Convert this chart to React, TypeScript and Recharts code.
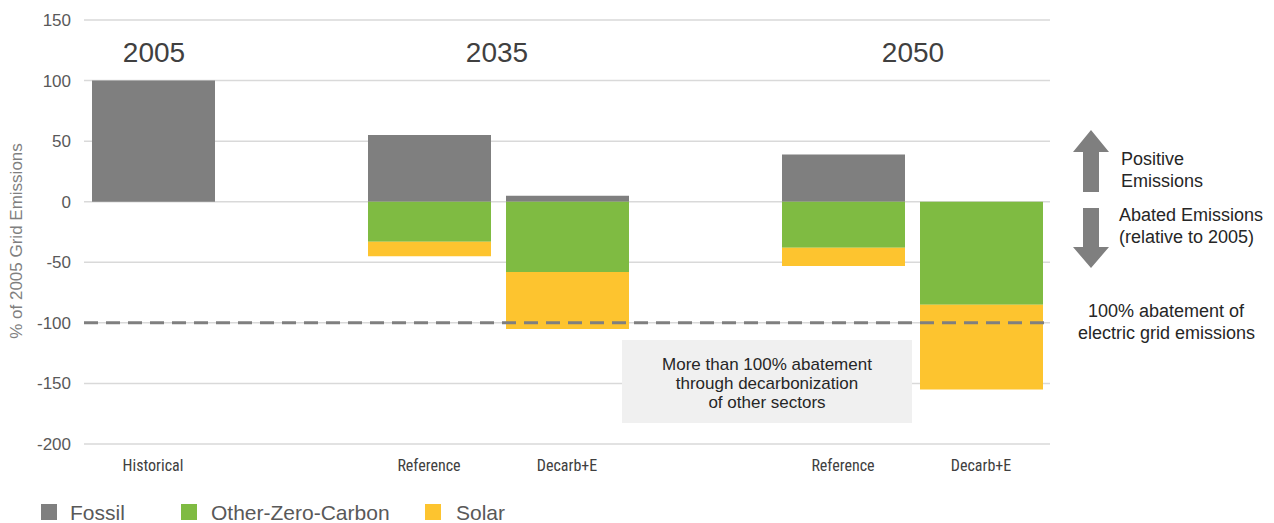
import React from "react";
import { BarChart, Bar, XAxis, YAxis, CartesianGrid, ReferenceLine } from "recharts";

const categories = ["Historical", "", "Reference", "Decarb+E", " ", "Reference", "Decarb+E"];
const fossil = [100, 0, 55, 5, 0, 39, 0];
const otherZeroCarbon = [0, 0, -33, -58, 0, -38, -85];
const solar = [0, 0, -12, -47, 0, -15, -70];
const yTicks = [-200, -150, -100, -50, 0, 50, 100, 150];
const seriesNames = ["Fossil", "Other-Zero-Carbon", "Solar"];
const seriesColors = ["#7f7f7f", "#7fbb42", "#fdc42f"];

const data = categories.map((c, i) => ({
  cat: c,
  fossil: fossil[i],
  other: otherZeroCarbon[i],
  solar: solar[i],
}));

const FONT = "'Liberation Sans', Arial, sans-serif";
const NARROW = "'Liberation Sans Narrow', 'Roboto Condensed', 'DejaVu Sans Condensed', sans-serif";

export default function App() {
  return (
    <div style={{ position: "relative", width: 1274, height: 523, fontFamily: FONT }}>
      <style>{"body{margin:0}"}</style>
      <BarChart
        width={1274}
        height={523}
        data={data}
        stackOffset="sign"
        margin={{ top: 20, right: 224, left: 0, bottom: 49 }}
      >
        <CartesianGrid vertical={false} stroke="#d9d9d9" strokeWidth={1.5} />
        <XAxis
          dataKey="cat"
          height={30}
          axisLine={false}
          tickLine={false}
          tickMargin={10}
          interval={0}
          tick={{ fill: "#404040", fontSize: 16, fontFamily: NARROW }}
        />
        <YAxis
          width={84}
          domain={[-200, 150]}
          ticks={yTicks}
          axisLine={false}
          tickLine={false}
          tickMargin={7}
          tick={{ fill: "#595959", fontSize: 17, fontFamily: FONT }}
        />
        <Bar dataKey="fossil" stackId="a" fill={seriesColors[0]} barSize={123} isAnimationActive={false} />
        <Bar dataKey="other" stackId="a" fill={seriesColors[1]} barSize={123} isAnimationActive={false} />
        <Bar dataKey="solar" stackId="a" fill={seriesColors[2]} barSize={123} isAnimationActive={false} />
        <ReferenceLine y={-100} stroke="#7f7f7f" strokeWidth={3} strokeDasharray="14 8" />
      </BarChart>
      <svg
        width={1274}
        height={523}
        style={{ position: "absolute", left: 0, top: 0, pointerEvents: "none" }}
      >
        <text x={18} y={241} transform="rotate(-90 18 241)" textAnchor="middle" dominantBaseline="middle" fontSize={17} fill="#7f7f7f" fontFamily={FONT}>
          % of 2005 Grid Emissions
        </text>
        <g fontSize={28} fill="#404040" textAnchor="middle" fontFamily={FONT}>
          <text x={154} y={62}>2005</text>
          <text x={497} y={62}>2035</text>
          <text x={913} y={62}>2050</text>
        </g>
        <rect x={622} y={340} width={290} height={83} fill="#f0f0f0" />
        <g fontSize={17} fill="#262626" textAnchor="middle" fontFamily={FONT}>
          <text x={767} y={370}>More than 100% abatement</text>
          <text x={767} y={389}>through decarbonization</text>
          <text x={767} y={408}>of other sectors</text>
        </g>
        <polygon points="1091,130 1109,152 1099,152 1099,192 1083,192 1083,152 1073,152" fill="#7f7f7f" />
        <polygon points="1083,208 1099,208 1099,247 1109,247 1091,268 1073,247 1083,247" fill="#7f7f7f" />
        <g fontSize={18} fill="#262626" fontFamily={FONT}>
          <text x={1121} y={165}>Positive</text>
          <text x={1121} y={187}>Emissions</text>
          <text x={1119} y={221}>Abated Emissions</text>
          <text x={1119} y={243}>(relative to 2005)</text>
          <text x={1088} y={317}>100% abatement of</text>
          <text x={1078} y={339}>electric grid emissions</text>
        </g>
        <g fontSize={21} fill="#595959" fontFamily={FONT}>
          <rect x={41} y={504} width={16} height={16} fill={seriesColors[0]} />
          <text x={70} y={520}>{seriesNames[0]}</text>
          <rect x={181} y={504} width={16} height={16} fill={seriesColors[1]} />
          <text x={211} y={520}>{seriesNames[1]}</text>
          <rect x={425} y={504} width={16} height={16} fill={seriesColors[2]} />
          <text x={456} y={520}>{seriesNames[2]}</text>
        </g>
      </svg>
    </div>
  );
}
